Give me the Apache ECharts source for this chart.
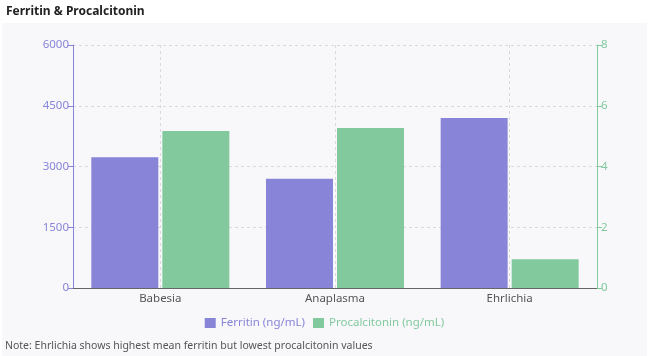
<!DOCTYPE html>
<html>
<head>
<meta charset="utf-8">
<script src="https://cdn.jsdelivr.net/npm/echarts@6/dist/echarts.min.js"></script>
<style>
html,body{margin:0;padding:0;background:#ffffff;}
#chart{width:649px;height:356px;}
</style>
</head>
<body>
<div id="chart"></div>
<script>
const categories = ['Babesia', 'Anaplasma', 'Ehrlichia'];
const ferritin = [3230, 2700, 4200];
const procalcitonin = [5.17, 5.27, 0.95];
const leftTicks = [0, 1500, 3000, 4500, 6000];
const rightTicks = [0, 2, 4, 6, 8];
const titleText = 'Ferritin & Procalcitonin';
const noteText = 'Note: Ehrlichia shows highest mean ferritin but lowest procalcitonin values';
const seriesNames = ['Ferritin (ng/mL)', 'Procalcitonin (ng/mL)'];
const colors = ['#8884d8', '#82ca9d'];

const chart = echarts.init(document.getElementById('chart'), null, {renderer: 'canvas'});
const font = '"Noto Sans", "Open Sans", sans-serif';
chart.setOption({
  animation: false,
  textStyle: {fontFamily: font},
  graphic: [
    {type: 'rect', z: -10, shape: {x: 2, y: 23, width: 645, height: 333}, style: {fill: '#f8f8fb'}},
    {type: 'text', left: 5, top: 341, style: {text: noteText, font: '10.5px ' + font, fill: '#555'}}
  ],
  title: {
    text: titleText, left: 1, top: 1,
    textStyle: {fontSize: 12, fontWeight: 'bold', color: '#222', fontFamily: font}
  },
  legend: {
    data: seriesNames.map((n, i) => ({name: n, textStyle: {color: colors[i]}})),
    top: 312, left: 'center',
    icon: 'rect', itemWidth: 11, itemHeight: 10, itemGap: 8,
    textStyle: {fontSize: 11.5, fontFamily: font}
  },
  grid: {left: 73, right: 52, top: 45, bottom: 68},
  xAxis: {
    type: 'category', data: categories,
    axisLine: {lineStyle: {color: '#666'}},
    axisTick: {alignWithLabel: true, length: 5, lineStyle: {color: '#666'}},
    axisLabel: {color: '#555', fontSize: 11.5, margin: 5},
    splitLine: {show: true, alignWithLabel: true, lineStyle: {color: '#d8d8dd', type: [3, 3]}}
  },
  yAxis: [
    {
      type: 'value', min: leftTicks[0], max: leftTicks[leftTicks.length - 1], interval: 1500,
      axisLine: {show: true, lineStyle: {color: colors[0]}},
      axisTick: {show: true, length: 5, lineStyle: {color: colors[0]}},
      axisLabel: {color: colors[0], fontSize: 11.5, margin: 4, formatter: v => String(v)},
      splitLine: {show: true, lineStyle: {color: '#d8d8dd', type: [3, 3]}}
    },
    {
      type: 'value', min: rightTicks[0], max: rightTicks[rightTicks.length - 1], interval: 2,
      position: 'right',
      axisLine: {show: true, lineStyle: {color: colors[1]}},
      axisTick: {show: true, length: 5, lineStyle: {color: colors[1]}},
      axisLabel: {color: colors[1], fontSize: 11.5, margin: 4, formatter: v => String(v)},
      splitLine: {show: false}
    }
  ],
  series: [
    {name: seriesNames[0], type: 'bar', data: ferritin, yAxisIndex: 0, barWidth: 67, barGap: '6%',
     itemStyle: {color: colors[0]}},
    {name: seriesNames[1], type: 'bar', data: procalcitonin, yAxisIndex: 1, barWidth: 67, barGap: '6%',
     itemStyle: {color: colors[1]}}
  ]
});
</script>
</body>
</html>
